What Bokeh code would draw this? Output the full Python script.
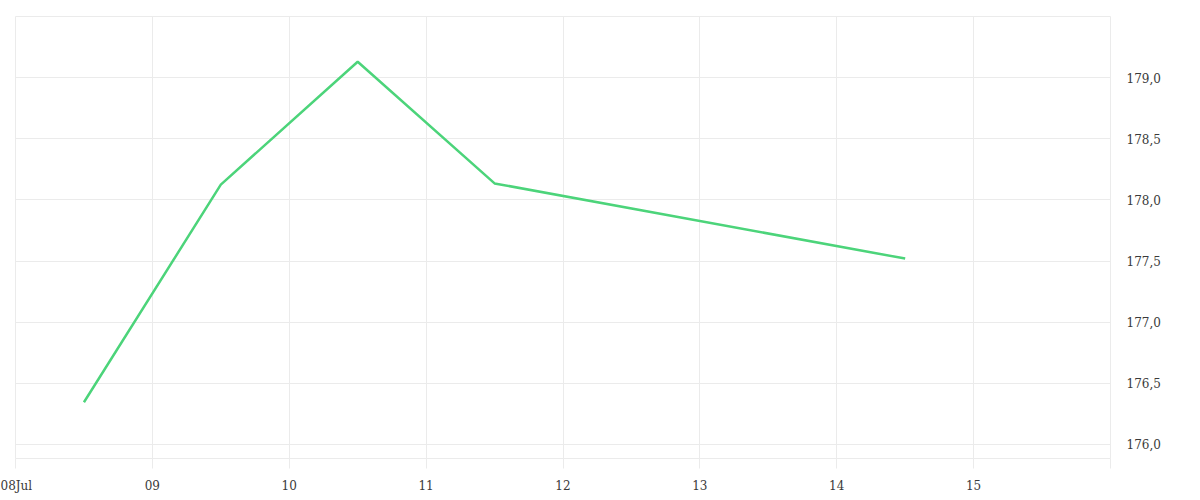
from bokeh.plotting import figure
from bokeh.models import Range1d, FixedTicker, ColumnDataSource
from bokeh.embed import file_html
from bokeh.resources import INLINE

# data (x in days of July, points at midday)
days = [8.5, 9.5, 10.5, 11.5, 14.5]
values = [176.345, 178.125, 179.13, 178.135, 177.52]

x_ticks = [8, 9, 10, 11, 12, 13, 14, 15, 16]
x_labels = ["08Jul", "09", "10", "11", "12", "13", "14", "15", ""]
y_ticks = [176.0, 176.5, 177.0, 177.5, 178.0, 178.5, 179.0]
y_labels = ["176,0", "176,5", "177,0", "177,5", "178,0", "178,5", "179,0"]

FONT = "DejaVu Serif"
GRID = "#ebebeb"
TXT = "#3a3a3a"

p = figure(width=1184, height=495, output_backend="svg", toolbar_location=None,
           x_range=Range1d(8, 16), y_range=Range1d(175.885, 179.5),
           x_axis_location="below", y_axis_location="right",
           min_border_left=15, min_border_top=16, min_border_right=74, min_border_bottom=34)
p.outline_line_color = GRID
p.background_fill_color = "white"
p.border_fill_color = "white"

src = ColumnDataSource(dict(x=days, y=values))
p.line("x", "y", source=src, line_color="#4cd47a", line_width=2.5)

xa = p.xaxis[0]
xa.ticker = FixedTicker(ticks=x_ticks)
xa.major_label_overrides = {t: l for t, l in zip(x_ticks, x_labels)}
xa.axis_line_color = None
xa.major_tick_out = 10
xa.major_tick_in = 0
xa.major_tick_line_color = GRID
xa.minor_tick_line_color = None
xa.major_label_standoff = 10
xa.major_label_text_font = FONT
xa.major_label_text_font_size = "12px"
xa.major_label_text_color = TXT

ya = p.yaxis[0]
ya.ticker = FixedTicker(ticks=y_ticks)
ya.major_label_overrides = {t: l for t, l in zip(y_ticks, y_labels)}
ya.axis_line_color = None
ya.major_tick_line_color = None
ya.minor_tick_line_color = None
ya.major_tick_out = 0
ya.major_label_standoff = 16
ya.major_label_text_font = FONT
ya.major_label_text_font_size = "12px"
ya.major_label_text_color = TXT

p.xgrid.ticker = FixedTicker(ticks=x_ticks)
p.ygrid.ticker = FixedTicker(ticks=y_ticks)
p.xgrid.grid_line_color = GRID
p.ygrid.grid_line_color = GRID

open("out.html", "w").write(file_html(p, INLINE))
